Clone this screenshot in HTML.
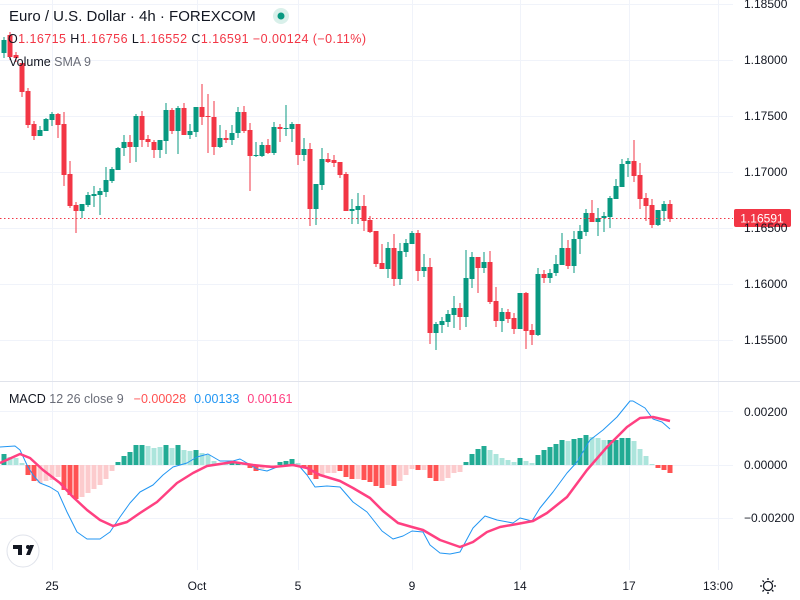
<!DOCTYPE html>
<html><head><meta charset="utf-8">
<style>
html,body{margin:0;padding:0;background:#fff;}
body{width:800px;height:600px;overflow:hidden;position:relative;font-family:"Liberation Sans",sans-serif;}
svg{position:absolute;left:0;top:0;}
</style></head>
<body>
<svg id="c" width="800" height="600" xmlns="http://www.w3.org/2000/svg">
<g id="grid" stroke="#f0f3fa" stroke-width="1"></g>
<g id="cand"></g>
<g id="hist"></g>
<g id="lines"></g>
<line x1="0" y1="381.5" x2="800" y2="381.5" stroke="#e0e3eb"/>
<line x1="0" y1="218.5" x2="733" y2="218.5" stroke="#f23645" stroke-dasharray="1.5,2.5"/>
<rect x="734" y="209" width="57" height="18" rx="2" fill="#f23645"/>
<text x="762" y="222.5" font-size="12" fill="#fff" text-anchor="middle">1.16591</text>
<g font-size="12" fill="#131722">
<text x="744" y="8">1.18500</text>
<text x="744" y="64">1.18000</text>
<text x="744" y="120">1.17500</text>
<text x="744" y="176">1.17000</text>
<text x="744" y="232">1.16500</text>
<text x="744" y="288">1.16000</text>
<text x="744" y="344">1.15500</text>
<text x="744" y="416">0.00200</text>
<text x="744" y="469">0.00000</text>
<text x="744" y="522">−0.00200</text>
<text x="52" y="590" text-anchor="middle">25</text>
<text x="197" y="590" text-anchor="middle">Oct</text>
<text x="298" y="590" text-anchor="middle">5</text>
<text x="412" y="590" text-anchor="middle">9</text>
<text x="520" y="590" text-anchor="middle">14</text>
<text x="629" y="590" text-anchor="middle">17</text>
<text x="718" y="590" text-anchor="middle">13:00</text>
</g>
<g stroke="#131722" stroke-width="1.3" fill="none">
<circle cx="768" cy="586" r="4.5"/>
<path d="M768 578v2M768 592v2M760 586h2M774 586h2M762.5 580.5l1.4 1.4M772 590l1.4 1.4M762.5 591.5l1.4-1.4M772 582l1.4-1.4"/>
</g>
<circle cx="23" cy="551" r="16" fill="#fff" stroke="#e0e3eb"/>
<path d="M13 545h9v10h-4v-6h-5z M26 555l4-10h4l-4 10z" fill="#131722"/>
<circle cx="28" cy="547" r="2" fill="#131722"/>
<text x="9" y="21" font-size="15" fill="#131722">Euro / U.S. Dollar · 4h · FOREXCOM</text>
<circle cx="281" cy="16" r="8" fill="#d9f0ea"/>
<circle cx="281" cy="16" r="3.5" fill="#089981"/>
<text x="8" y="43" font-size="12.5" fill="#f23645" textLength="358" lengthAdjust="spacing"><tspan fill="#131722">O</tspan>1.16715  <tspan fill="#131722">H</tspan>1.16756  <tspan fill="#131722">L</tspan>1.16552  <tspan fill="#131722">C</tspan>1.16591  −0.00124 (−0.11%)</text>
<text x="9" y="66" font-size="12.5" fill="#131722">Volume <tspan fill="#6a6d78">SMA 9</tspan></text>
<text x="9" y="403" font-size="12.5" fill="#131722">MACD <tspan fill="#6a6d78">12 26 close 9</tspan><tspan dx="10" fill="#ff5252">−0.00028</tspan><tspan dx="8" fill="#2196f3">0.00133</tspan><tspan dx="8" fill="#ff4081">0.00161</tspan></text>
</svg>
<script>
var NS="http://www.w3.org/2000/svg";
function el(p,t,a){var e=document.createElementNS(NS,t);for(var k in a)e.setAttribute(k,a[k]);document.getElementById(p).appendChild(e);return e;}
[4,60,116,172,228,284,340,411,465,518].forEach(function(y){el("grid","line",{x1:0,x2:733,y1:y+.5,y2:y+.5});});
[52,197,298,412,520,629,718].forEach(function(x){el("grid","line",{x1:x+.5,x2:x+.5,y1:0,y2:570});});
var C=[[4,40,53,37,58,'g'],[10,35,57,32,60,'r'],[16,55,58,52,62,'r'],
[22,63,92,63,97,'r'],[28,91,125,88,128,'r'],[34,124,136,121,140,'r'],[40,130,136,126,136,'g'],[46,119,131,118,131,'g'],[52,114,120,112,126,'g'],[58,114,125,113,138,'r'],[64,124,175,112,186,'r'],[70,174,206,161,208,'r'],[76,205,211,202,233,'r'],[82,204,211,204,218,'g'],[88,195,205,192,207,'g'],[94,194,196,186,207,'g'],[100,191,195,188,215,'g'],[106,180,192,167,197,'g'],[112,169,181,167,183,'g'],[118,148,170,147,170,'g'],[124,142,148,135,156,'g'],[130,142,147,135,163,'r'],[136,116,147,114,162,'g'],[142,116,140,111,147,'r'],[148,139,142,135,147,'r'],[154,142,150,140,158,'r'],[160,140,150,140,158,'g'],[166,110,141,103,154,'g'],[172,110,131,108,134,'r'],[178,108,131,106,154,'g'],[184,108,135,103,135,'r'],[190,131,135,124,139,'g'],[196,107,132,107,137,'g'],[202,107,117,84,125,'r'],[208,116,117,94,153,'r'],[214,117,147,101,155,'r'],[220,138,147,125,148,'g'],[226,138,140,130,143,'r'],[232,133,140,125,145,'g'],[238,112,133,107,138,'g'],[244,112,131,106,133,'r'],[250,130,156,123,191,'r'],[256,155,156,142,157,'g'],[262,145,156,142,157,'g'],[268,145,153,139,154,'r'],[274,127,153,122,155,'g'],[280,127,129,124,142,'r'],[286,128,129,105,136,'g'],[292,124,129,122,142,'g'],[298,124,155,124,165,'r'],[304,149,155,138,161,'g'],[310,149,209,143,226,'r'],[316,184,209,184,225,'g'],[322,159,185,148,190,'g'],[328,159,162,153,163,'r'],[334,160,163,155,167,'r'],[340,162,175,162,178,'r'],[346,174,211,172,211,'r'],[352,209,211,199,224,'g'],[358,206,210,193,224,'g'],[364,206,221,195,231,'r'],[370,220,232,216,233,'r'],[376,231,264,231,267,'r'],[382,263,269,244,269,'r'],[388,248,269,242,278,'g'],[394,248,279,234,286,'r'],[400,251,279,243,285,'g'],[406,243,252,239,257,'g'],[412,233,244,231,244,'g'],[418,233,271,230,281,'r'],[424,267,271,254,277,'g'],[430,267,333,258,344,'r'],[436,324,333,322,350,'g'],[442,321,325,317,333,'g'],[448,314,322,310,327,'g'],[454,308,315,296,328,'g'],[460,308,317,303,330,'r'],[466,278,317,250,327,'g'],[472,257,279,252,288,'g'],[478,257,268,257,293,'r'],[484,262,268,252,273,'g'],[490,262,302,251,304,'r'],[496,301,321,287,327,'r'],[502,312,321,308,332,'g'],[508,312,319,309,323,'r'],[514,318,329,313,334,'r'],[520,293,329,293,329,'g'],[526,293,331,292,349,'r'],[532,330,335,324,345,'r'],[538,274,335,268,336,'g'],[544,274,278,270,283,'r'],[550,273,278,269,283,'g'],[556,264,273,255,276,'g'],[562,248,265,233,265,'g'],[568,248,266,240,269,'r'],[574,239,266,231,273,'g'],[580,231,239,225,254,'g'],[586,213,232,209,236,'g'],[592,213,222,200,222,'r'],[598,218,222,208,236,'g'],[604,216,218,212,232,'g'],[610,198,217,196,228,'g'],[616,186,199,179,199,'g'],[622,164,187,159,187,'g'],[628,161,164,158,177,'g'],[634,161,176,140,182,'r'],[640,175,199,163,209,'r'],[646,198,206,193,221,'r'],[652,205,225,199,228,'r'],[658,210,225,210,226,'g'],[664,204,211,201,221,'g'],[670,204,219,200,222,'r']];
C.forEach(function(c){var col=c[5]=='g'?'#089981':'#f23645';
el("cand","rect",{x:c[0]-0.5,y:c[3],width:1,height:c[4]-c[3],fill:col});
el("cand","rect",{x:c[0]-2.5,y:c[1],width:5,height:Math.max(1,c[2]-c[1]),fill:col});});
var H=[[4,11,'G'],[10,8,'g'],[16,7,'g'],[22,2,'g'],[28,-10,'R'],[34,-16,'R'],[40,-18,'p'],[46,-16,'p'],[52,-15,'p'],[58,-12,'p'],[64,-25,'R'],[70,-30,'R'],[76,-34,'R'],[82,-32,'p'],[88,-28,'p'],[94,-24,'p'],[100,-20,'p'],[106,-14,'p'],[112,-6,'p'],
[118,3,'G'],[124,9,'G'],[130,13,'G'],[136,20,'G'],[142,20,'G'],[148,19,'g'],[154,17,'g'],[160,18,'g'],[166,20,'G'],[172,17,'g'],[178,20,'G'],[184,15,'g'],[190,14,'g'],[196,15,'G'],[202,12,'g'],[208,10,'g'],[214,4,'g'],[220,2,'g'],[226,2,'g'],[232,2,'G'],[238,3,'G'],[244,1,'g'],[250,-3,'R'],[256,-6,'R'],[262,-4,'p'],[268,-3,'p'],[274,-2,'p'],[280,3,'G'],[286,4,'G'],[292,6,'G'],[298,2,'g'],[304,-3,'R'],[310,-10,'R'],[316,-14,'R'],[322,-10,'p'],[328,-8,'p'],[334,-8,'p'],
[340,-6,'R'],[346,-12,'R'],[352,-14,'R'],[358,-14,'p'],[364,-15,'R'],[370,-17,'R'],[376,-21,'R'],[382,-23,'R'],[388,-20,'p'],[394,-21,'R'],[400,-16,'p'],[406,-10,'p'],[412,-4,'p'],[418,-5,'R'],[424,-5,'p'],[430,-13,'R'],[436,-16,'R'],[442,-16,'p'],[448,-13,'p'],[454,-8,'p'],[460,-7,'p'],
[466,3,'G'],[472,11,'G'],[478,16,'G'],[484,19,'G'],[490,15,'g'],[496,11,'g'],[502,7,'g'],[508,5,'g'],[514,3,'g'],[520,7,'G'],[526,4,'g'],[532,2,'g'],[538,10,'G'],[544,15,'G'],[550,18,'G'],[556,21,'G'],[562,25,'G'],[568,24,'g'],[574,26,'G'],[580,27,'G'],[586,30,'G'],[592,28,'g'],[598,27,'g'],[604,25,'g'],[610,25,'G'],[616,25,'G'],[622,27,'G'],[628,27,'G'],[634,24,'g'],[640,16,'g'],[646,9,'g'],[652,1,'g'],[658,-3,'R'],[664,-5,'R'],[670,-8,'R']];
var HC={G:'#22ab94',g:'#ace5dc',R:'#ff5252',p:'#fccbcd'};
H.forEach(function(h){var v=h[1];el("hist","rect",{x:h[0]-2.5,y:v>0?465-v:465,width:5,height:Math.abs(v),fill:HC[h[2]]});});
var B="0,447 15,446 20,450 27,465 33,475 40,483 50,487 58,492 67,512 77,532 87,539 100,539 110,532 120,517 130,503 140,492 153,485 163,475 173,467 187,463 197,457 208,454 220,461 233,461 240,459 247,463 257,469 267,471 277,467 290,465 300,467 307,475 315,487 327,486 340,487 353,502 367,512 382,531 393,539 403,536 412,531 423,532 430,545 440,553 450,554 460,552 473,528 485,516 497,520 513,523 520,518 532,521 540,508 553,492 567,473 577,462 590,440 603,430 617,417 630,401 633,401 645,408 653,419 662,422 670,429";
var S="0,463 20,454 30,458 43,470 60,483 73,497 87,510 100,520 113,526 127,522 140,513 157,502 177,483 193,473 207,466 233,462 253,465 273,467 293,465 307,468 320,475 340,481 353,488 370,498 383,511 398,523 412,527 423,530 440,540 460,547 473,542 487,532 500,527 517,524 533,521 547,513 567,497 587,470 607,447 627,427 640,418 653,417 670,421";
el("lines","polyline",{points:B,fill:"none",stroke:"#2196f3","stroke-width":1,"stroke-linejoin":"round"});
el("lines","polyline",{points:S,fill:"none",stroke:"#ff4081","stroke-width":2.5,"stroke-linejoin":"round"});
</script>
</body></html>
